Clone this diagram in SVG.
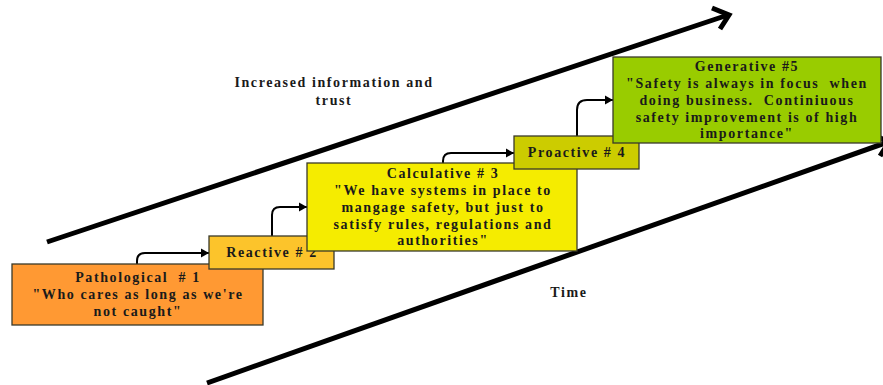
<svg xmlns="http://www.w3.org/2000/svg" width="883" height="385" viewBox="0 0 883 385">
<defs>
<style>
.box{stroke:#3a3a2a;stroke-width:1.3}
.t{font-family:"Liberation Serif",serif;font-weight:bold;font-size:14px;letter-spacing:1.6px;fill:#1a1a1a;text-anchor:middle;white-space:pre}
.conn{fill:none;stroke:#000;stroke-width:2}
.big{fill:none;stroke:#000;stroke-width:5}
</style>
<marker id="ah" markerUnits="userSpaceOnUse" markerWidth="10" markerHeight="10" refX="8" refY="5" orient="auto">
<path d="M0,0.5 L8,5 L0,9.5 Z" fill="#000"/>
</marker>
</defs>
<rect width="883" height="385" fill="#fff"/>
<g id="axes">
<line class="big" x1="47" y1="242" x2="728" y2="15"/>
<polyline class="big" points="712,8 729,15 720,29"/>
<line class="big" x1="207" y1="383" x2="888" y2="142"/>
<polyline class="big" points="872,134 889,142 880,156"/>
</g>
<g id="label-info">
<text class="t" x="334" y="87">Increased information and</text>
<text class="t" x="334" y="105">trust</text>
</g>
<g id="label-time">
<text class="t" x="569" y="297">Time</text>
</g>
<g id="connectors">
<path class="conn" marker-end="url(#ah)" d="M137,264 V261 Q137,253 145,253 H209"/>
<path class="conn" marker-end="url(#ah)" d="M272,236 V215 Q272,207 280,207 H307"/>
<path class="conn" marker-end="url(#ah)" d="M443,163 V161 Q443,153 451,153 H514"/>
<path class="conn" marker-end="url(#ah)" d="M577,136 V110 Q577,100 587,100 H613"/>
</g>
<g id="n1">
<rect class="box" x="12" y="264" width="251" height="61" fill="#FF9933"/>
<text class="t" x="138" y="282">Pathological  # 1</text>
<text class="t" x="138" y="299">"Who cares as long as we're</text>
<text class="t" x="138" y="316">not caught"</text>
</g>
<g id="n2">
<rect class="box" x="209" y="236" width="125" height="33" fill="#FCC42B"/>
<text class="t" x="272" y="257">Reactive # 2</text>
</g>
<g id="n3">
<rect class="box" x="307" y="163" width="270" height="88" fill="#F5EC00"/>
<text class="t" x="443" y="178">Calculative # 3</text>
<text class="t" x="443" y="195">"We have systems in place to</text>
<text class="t" x="443" y="212">mangage safety, but just to</text>
<text class="t" x="443" y="229">satisfy rules, regulations and</text>
<text class="t" x="443" y="245">authorities"</text>
</g>
<g id="n4">
<rect class="box" x="514" y="136" width="125" height="33" fill="#CCCC00"/>
<text class="t" x="577" y="157">Proactive # 4</text>
</g>
<g id="n5">
<rect class="box" x="613" y="57" width="268" height="86" fill="#99CC00"/>
<text class="t" x="747" y="71">Generative #5</text>
<text class="t" x="747" y="88">"Safety is always in focus  when</text>
<text class="t" x="747" y="105">doing business.  Continiuous</text>
<text class="t" x="747" y="122">safety improvement is of high</text>
<text class="t" x="747" y="138">importance"</text>
</g>
</svg>
